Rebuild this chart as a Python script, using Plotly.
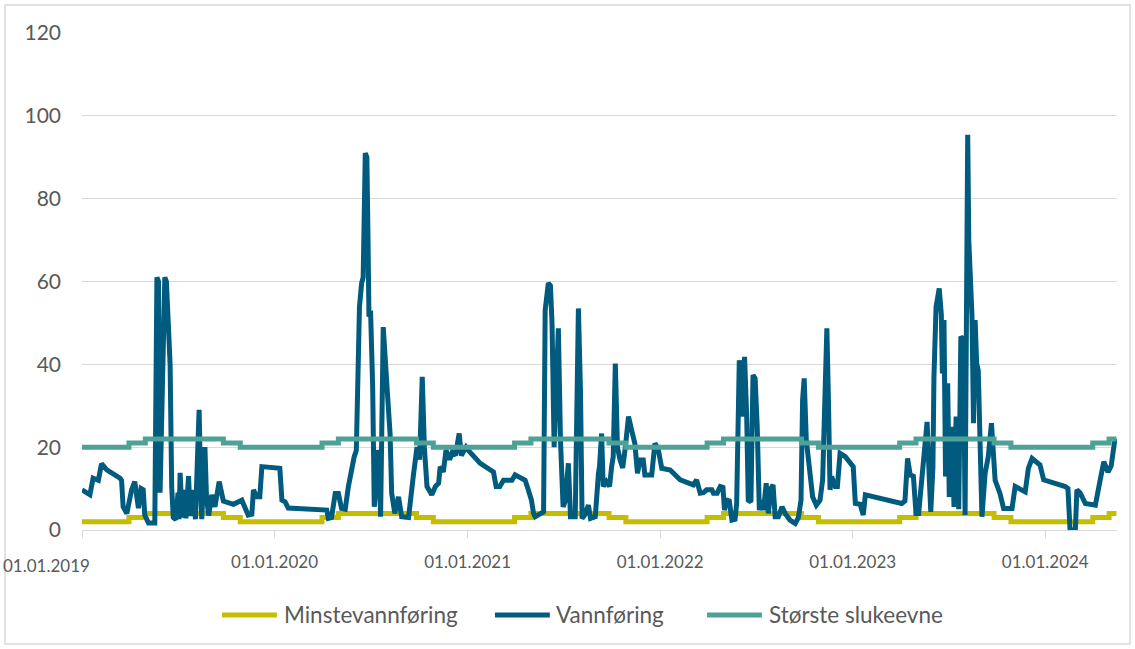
import plotly.graph_objects as go
import pandas as pd

# ── Colors ────────────────────────────────────────────────────────────────────
YELLOW = '#C4BD00'
BLUE   = '#005B7F'
TEAL   = '#4EA197'
GRID   = '#D9D9D9'
TEXT   = '#595959'

# ── Data ──────────────────────────────────────────────────────────────────────
START = pd.Timestamp('2019-01-01')

# Vannføring: days after 01.01.2019 and flow values (m3/s)
vann_days = [
    0, 15, 21, 31, 37, 47, 72, 75, 78, 85, 94, 100, 107, 112, 116, 119, 126, 138,
    142, 145, 148, 157, 160, 164, 167, 170, 173, 178, 182, 184, 186, 190, 193, 197,
    202, 205, 211, 215, 222, 225, 227, 233, 236, 240, 246, 252, 260, 268, 277, 287,
    303, 309, 315, 322, 325, 331, 337, 341, 375, 379, 385, 391, 464, 467, 473, 480,
    486, 492, 499, 505, 511, 516, 520, 522, 526, 530, 533, 537, 540, 542, 544, 547,
    551, 554, 557, 561, 563, 566, 571, 579, 584, 587, 593, 600, 606, 619, 625, 628,
    635, 640, 645, 649, 654, 663, 670, 676, 679, 685, 690, 697, 702, 708, 715, 719,
    728, 732, 755, 774, 780, 785, 792, 799, 815, 821, 831, 840, 846, 852, 856, 859,
    875, 878, 884, 888, 891, 895, 903, 907, 912, 916, 922, 926, 935, 941, 945, 948,
    953, 960, 964, 973, 979, 981, 985, 988, 994, 1000, 1004, 1007, 1011, 1015, 1020,
    1025, 1030, 1036, 1042, 1048, 1053, 1058, 1064, 1067, 1080, 1086, 1092, 1099,
    1115, 1127, 1134, 1159, 1165, 1172, 1178, 1184, 1194, 1197, 1204, 1210, 1215,
    1218, 1222, 1227, 1232, 1238, 1241, 1246, 1252, 1256, 1260, 1263, 1268, 1272,
    1276, 1280, 1284, 1289, 1292, 1297, 1301, 1306, 1310, 1314, 1320, 1327, 1333,
    1342, 1352, 1358, 1363, 1366, 1369, 1373, 1376, 1380, 1385, 1392, 1399, 1404,
    1412, 1415, 1418, 1421, 1428, 1432, 1437, 1447, 1456, 1462, 1466, 1475, 1481,
    1485, 1554, 1560, 1565, 1570, 1576, 1581, 1586, 1591, 1597, 1602, 1606, 1609,
    1613, 1615, 1619, 1622, 1625, 1629, 1631, 1634, 1637, 1641, 1644, 1649, 1653,
    1657, 1662, 1666, 1671, 1674, 1679, 1681, 1684, 1687, 1690, 1693, 1696, 1699,
    1706, 1712, 1718, 1724, 1731, 1740, 1747, 1763, 1769, 1788, 1794, 1801, 1816,
    1823, 1864, 1869, 1873, 1883, 1886, 1892, 1902, 1921, 1930, 1937, 1945, 1951,
    1957, 1960,
]
vann_values = [
    9.7, 8.5, 12.5, 12, 16, 14.5, 12.5, 12, 5.6, 4, 9.7, 11.7, 5.3, 10, 9.7, 3.6, 1.7, 1.7,
    61, 60, 9, 61, 60, 44, 40, 10.5, 3, 2.5, 9, 2.6, 13.8, 3, 9.7, 2.8,
    13, 3.4, 9.7, 2.6, 29, 10, 2.6, 20, 8, 3.5, 8.5, 5.6, 11.7, 7, 6.6, 6.2,
    7.2, 5.6, 3.6, 3.8, 9.7, 8, 8, 15.3, 14.9, 7.2, 6.8, 5.3, 4.8, 2.8, 3.0, 8.8,
    8.8, 5.2, 5.0, 10.5, 14.9, 17.7, 19.2, 37.4, 53.9, 59.6, 61, 91, 90, 72, 51.5, 53,
    34.6, 5.6, 9.7, 19.3, 18, 3.2, 49, 33, 23.3, 8.9, 4, 8, 3.2, 3, 11.7, 13,
    20, 17, 37, 20, 10.5, 8.5, 10.5, 11.3, 15.3, 14, 19.3, 17, 18.8, 18, 23.3, 18,
    20, 19.3, 16.1, 14.5, 14, 10.5, 10.5, 12, 12, 13.3, 12.5, 12, 9.7, 7.2, 4, 3.2,
    4.4, 53, 59.6, 59, 50, 20, 48.7, 21.7, 5.6, 7, 16.1, 3.2, 3.2, 53.5, 33, 2.8,
    3.6, 6, 2.8, 3.2, 13.7, 15.3, 23.3, 10.5, 11.7, 10.5, 15.3, 17.7, 40.2, 20, 16.9,
    15, 20, 27.4, 24.1, 20.9, 13.7, 16.9, 16.9, 13.3, 13.3, 20.9, 19.7, 14.9,
    14.5, 12.9, 12.1, 10.9, 12.1, 8.9, 9, 9.7, 9.7, 8.9, 8.9, 10.5, 10.3,
    4.8, 7.2, 7, 2.4, 2.6, 6.4, 41, 27.4, 41.8, 27.4, 7.2, 6.8, 37.4,
    36.6, 24.9, 4.8, 7.2, 4.8, 11.3, 4, 10, 10.9, 3.2, 3.2, 5.6, 4,
    2.4, 1.6, 3, 7.2, 31.4, 36.6, 21.7, 18.5, 14.5, 8, 6, 7.2, 12.1,
    48.7, 31.4, 9.7, 12.9, 10.5, 10.5, 18.5, 17.7, 16.5, 15.3, 6.4, 6.2, 3.6,
    8.5, 6.4, 7, 17.3, 13.3, 13, 4, 4, 12.1, 20, 26.1, 13, 4.4,
    15, 37, 53.9, 55.5, 58.3, 52, 37.8, 50.7, 12.9, 35.4, 8, 24.9, 5.6,
    27.4, 5, 46.7, 46, 3.6, 95.4, 70, 57, 52, 25.8, 50.7, 40.2, 38.5,
    3.2, 13.7, 17.7, 25.8, 12, 8.9, 5.2, 5.2, 10.5, 9.2, 14.9, 17.3, 15.7,
    12.1, 10.5, 10, 0, 0, 9.7, 9, 6.4, 6, 12, 16.5, 14, 15.5,
    21, 22,
]

# Minstevannføring / Største slukeevne: seasonal step levels
step_dates = [
    '2019-01-01', '2019-03-31', '2019-05-01', '2019-09-26', '2019-10-28',
    '2020-03-31', '2020-05-01', '2020-09-26', '2020-10-28',
    '2021-03-31', '2021-05-01', '2021-09-26', '2021-10-28',
    '2022-03-31', '2022-05-01', '2022-09-26', '2022-10-28',
    '2023-03-31', '2023-05-01', '2023-09-26', '2023-10-28',
    '2024-03-31', '2024-05-01', '2024-05-15',
]
minste_levels = [
    2, 3, 4, 3, 2,
    3, 4, 3, 2,
    3, 4, 3, 2,
    3, 4, 3, 2,
    3, 4, 3, 2,
    3, 4, 4,
]
sluke_levels = [
    20, 21, 22, 21, 20,
    21, 22, 21, 20,
    21, 22, 21, 20,
    21, 22, 21, 20,
    21, 22, 21, 20,
    21, 22, 22,
]

# x-axis ticks
tick_dates = ['2019-01-01', '2020-01-01', '2021-01-01', '2022-01-01', '2023-01-01', '2024-01-01']
tick_labels = ['01.01.2019', '01.01.2020', '01.01.2021', '01.01.2022', '01.01.2023', '01.01.2024']

vann_dates = START + pd.to_timedelta(vann_days, unit='D')

SERIES = [
    ('Minstevannføring', YELLOW),
    ('Vannføring', BLUE),
    ('Største slukeevne', TEAL),
]

# ── Figure ────────────────────────────────────────────────────────────────────
fig = go.Figure()
fig.add_trace(go.Scatter(
    x=step_dates, y=minste_levels, mode='lines', name=SERIES[0][0],
    line=dict(color=YELLOW, width=5, shape='hv'),
))
fig.add_trace(go.Scatter(
    x=vann_dates, y=vann_values, mode='lines', name=SERIES[1][0],
    line=dict(color=BLUE, width=5),
))
fig.add_trace(go.Scatter(
    x=step_dates, y=sluke_levels, mode='lines', name=SERIES[2][0],
    line=dict(color=TEAL, width=5, shape='hv'),
))

# hand-drawn legend below the plot (keeps the plot area fixed)
LEGEND_X = [0.1353, 0.3990, 0.6039]   # start of each legend sample line
LEGEND_Y = -0.171
shapes = [dict(
    type='rect', xref='paper', yref='paper',
    x0=-0.0744, x1=1.0126, y0=-0.2294, y1=1.0563,
    line=dict(color=GRID, width=1.5), fillcolor='rgba(0,0,0,0)', layer='below',
)]
annotations = []
for (name, color), x in zip(SERIES, LEGEND_X):
    shapes.append(dict(
        type='line', xref='paper', yref='paper',
        x0=x, x1=x + 0.053, y0=LEGEND_Y, y1=LEGEND_Y,
        line=dict(color=color, width=5),
    ))
    annotations.append(dict(
        text=name, xref='paper', yref='paper', x=x + 0.0575, y=LEGEND_Y,
        xanchor='left', yanchor='middle', showarrow=False,
        font=dict(size=22.5, color=TEXT),
    ))

# first date label sits at the very left edge, as in the original
annotations.append(dict(
    text=tick_labels[0], xref='paper', yref='paper', x=-0.0783, y=-0.0724,
    xanchor='left', yanchor='middle', showarrow=False,
    font=dict(size=17, color=TEXT),
))

fig.update_layout(
    width=1135, height=649,
    paper_bgcolor='white', plot_bgcolor='white',
    font=dict(family='Lato, sans-serif', color=TEXT, size=20),
    margin=dict(l=82, r=18, t=33, b=119),
    showlegend=False,
    xaxis=dict(
        type='date',
        range=['2019-01-01', '2024-05-16'],
        tickvals=tick_dates, ticktext=[''] + tick_labels[1:],
        showgrid=False, showline=True, linecolor=GRID, linewidth=1,
        ticks='outside', ticklen=7, tickcolor=GRID,
        ticklabelstandoff=10, tickfont=dict(size=17),
    ),
    yaxis=dict(
        range=[0, 120], dtick=20,
        showgrid=True, gridcolor=GRID, gridwidth=1,
        zeroline=False, ticks='', ticklabelstandoff=20,
        tickfont=dict(size=21),
    ),
    shapes=shapes,
    annotations=annotations,
)

# drop the default page margin so the figure fills the window exactly
fig.write_html('out.html', config={'displayModeBar': False},
               post_script="document.body.style.margin='0';")
